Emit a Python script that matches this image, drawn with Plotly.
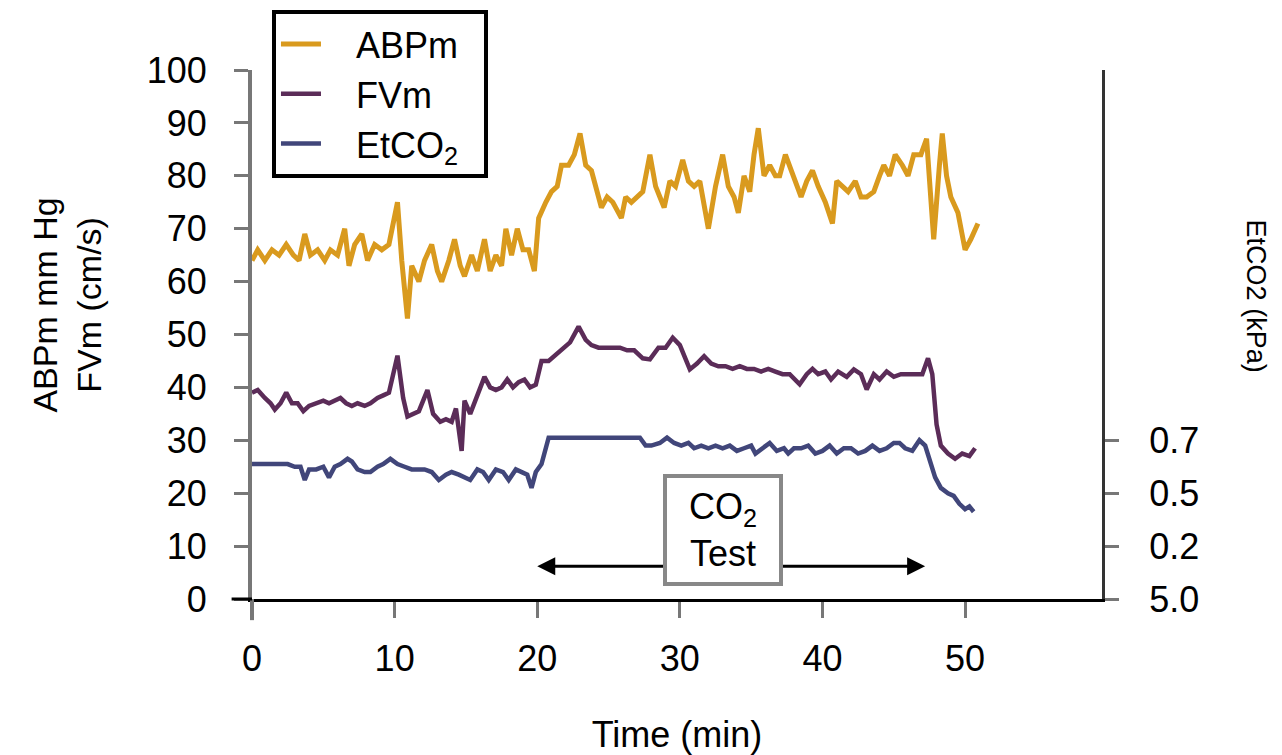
import plotly.graph_objects as go

# ---- data ----
abp_t = [0.0,0.4,0.9,1.4,1.9,2.4,2.9,3.3,3.7,4.1,4.6,5.1,5.5,6.0,6.5,6.8,7.2,7.7,8.1,8.6,9.1,9.6,
         10.2,10.5,10.9,11.2,11.7,12.1,12.6,13.0,13.3,13.8,14.2,14.6,14.9,15.4,15.8,16.3,16.7,17.1,17.5,
         17.8,18.2,18.6,19.0,19.4,19.8,20.1,20.6,21.0,21.4,21.7,22.2,22.6,23.0,23.4,23.8,24.1,24.5,24.9,
         25.3,25.9,26.2,26.6,27.0,27.4,27.9,28.3,28.6,28.9,29.3,29.7,30.2,30.6,31.0,31.4,32.0,32.5,33.0,
         33.4,33.8,34.1,34.5,34.9,35.2,35.5,35.9,36.3,36.7,37.0,37.4,37.8,38.2,38.5,38.9,39.3,39.7,40.2,
         40.7,41.0,41.4,41.8,42.3,42.7,43.1,43.6,44.0,44.3,44.7,45.1,45.6,46.0,46.4,46.9,47.3,47.8,48.2,
         48.4,48.7,49.0,49.5,50.0,50.4,50.9]
abp_v = [64,66,64,66,65,67,65,64,69,65,66,64,66,65,70,63,67,69,64,67,66,67,
         75,64,53,63,60,64,67,62,60,64,68,63,61,65,62,68,62,65,63,
         70,65,70,66,66,62,72,75,77,78,82,82,84,88,82,81,78,74,76,
         75,72,76,75,76,77,84,78,76,74,79,78,83,79,78,79,70,78,84,
         78,76,73,80,77,84,89,80,82,80,80,84,81,78,76,79,81,78,75,
         71,79,78,77,79,76,76,77,80,82,80,84,82,80,84,84,87,68,82,
         88,80,76,73,66,68,71]

fv_t = [0.0,0.4,0.9,1.3,1.6,2.0,2.4,2.8,3.2,3.6,4.0,4.5,5.0,5.4,5.8,6.2,6.6,7.0,7.4,7.9,8.3,8.8,9.2,9.6,
        10.2,10.6,10.9,11.3,11.7,12.3,12.7,13.2,13.6,14.0,14.3,14.7,14.9,15.3,15.7,16.3,16.7,17.1,17.5,
        17.9,18.3,18.7,19.1,19.5,19.9,20.3,20.8,21.2,21.7,22.3,22.9,23.4,23.8,24.3,24.8,25.3,25.8,26.3,
        26.8,27.4,27.9,28.5,29.0,29.5,30.0,30.7,31.2,31.7,32.2,32.7,33.2,33.7,34.2,34.7,35.2,35.7,36.2,
        36.7,37.2,37.7,38.4,38.9,39.3,39.7,40.2,40.6,41.1,41.7,42.2,42.7,43.1,43.6,44.0,44.5,45.0,45.5,
        46.0,46.5,47.0,47.4,47.7,48.0,48.3,48.8,49.3,49.8,50.3,50.7]
fv_v = [39,39.5,38,37,35.8,37,39,37,37,35.5,36.5,37,37.5,37,37.5,38,37,36.5,37,36.5,37,38,38.5,39,
        46,38,34.5,35,35.5,39.5,35,33.5,34,33.5,36,28,37.5,35,38,42,40,39.5,40,
        41.5,40,41,41.5,40,40.5,45,45,46,47,48.5,51.5,49,48,47.5,47.5,47.5,47.5,47,
        47,45.5,45.3,47.5,47.5,49.4,48,43.4,44.5,45.9,44.5,44,44,43.5,44,43.5,43.5,43,43.5,
        43,42.5,42.5,40.6,42.5,43.5,42.5,43,41.5,43,42,43.4,42.5,39.6,42.5,41.5,43,42,42.5,
        42.5,42.5,42.5,45.5,42.5,33,29,27.5,26.5,27.5,27,28.5]

et_t = [0.0,0.5,1.0,1.5,2.0,2.5,3.0,3.4,3.7,4.0,4.5,5.0,5.4,5.8,6.2,6.7,7.0,7.4,7.9,8.3,8.8,9.2,9.7,
        10.2,10.7,11.2,11.7,12.1,12.6,13.1,13.6,14.0,14.5,14.9,15.3,15.8,16.2,16.6,17.1,17.6,18.0,18.5,
        18.9,19.3,19.6,19.9,20.3,20.8,21.5,22.5,23.5,24.5,25.5,26.5,27.2,27.6,28.0,28.6,29.1,29.6,30.1,
        30.6,31.0,31.5,32.0,32.5,33.0,33.5,34.0,34.5,35.0,35.3,35.8,36.3,36.8,37.3,37.6,38.0,38.5,39.0,
        39.5,40.0,40.5,41.0,41.5,42.0,42.5,43.0,43.5,44.0,44.5,45.0,45.4,45.8,46.3,46.8,47.2,47.5,47.9,
        48.3,48.8,49.2,49.6,50.0,50.3,50.6]
et_v = [25.5,25.5,25.5,25.5,25.5,25.5,25,25,22.5,24.5,24.5,25,23,25,25.5,26.5,26,24.5,24,24,25,25.5,26.5,
        25.5,25,24.5,24.5,24.5,24,22.5,23.5,24,23.5,23,22.5,24.5,24,22.5,24.5,24,22.5,24.5,
        24,23.5,21,24,25.5,30.5,30.5,30.5,30.5,30.5,30.5,30.5,30.5,29,29,29.5,30.5,29.5,29,
        29.5,28.5,29,28.5,29,28.5,29,28,28.5,29,27.5,28.5,29.5,28,28.5,27.5,28.5,28.5,29,
        27.5,28,29,27.5,28.5,28.5,27.5,28,29,28,28.5,29.5,29.5,28.5,28,30,29,26.5,23,
        21,20,19.5,18,17,17.5,16.5]

left_ticks = [0, 10, 20, 30, 40, 50, 60, 70, 80, 90, 100]
x_ticks = [0, 10, 20, 30, 40, 50]
right_tickvals = [0, 10, 20, 30]
right_ticktext = ["5.0", "0.2", "0.5", "0.7"]
test_start, test_end, arrow_level = 20.0, 47.2, 6.2

FONT = "Liberation Sans, Arial, sans-serif"
C_ABP = "#D99A1E"
C_FV = "#5B2C58"
C_ET = "#41467A"
PAD = "\u00a0\u00a0\u00a0"
TAIL = "\u00a0\u00a0"

fig = go.Figure()
fig.add_trace(go.Scatter(x=abp_t, y=abp_v, mode="lines", name=PAD + "ABPm" + TAIL,
                         line=dict(color=C_ABP, width=5)))
fig.add_trace(go.Scatter(x=fv_t, y=fv_v, mode="lines", name=PAD + "FVm" + TAIL,
                         line=dict(color=C_FV, width=4.5)))
fig.add_trace(go.Scatter(x=et_t, y=et_v, mode="lines", name=PAD + "EtCO<sub>2</sub>" + TAIL,
                         line=dict(color=C_ET, width=4.5), yaxis="y2"))

# double-headed arrow for CO2 test period
mid = (test_start + test_end) / 2
for end in (test_start, test_end):
    fig.add_annotation(x=end, y=arrow_level, ax=mid, ay=arrow_level, xref="x", yref="y",
                       axref="x", ayref="y", text="", showarrow=True, arrowhead=2,
                       arrowsize=1.2, arrowwidth=3, arrowcolor="black")
fig.add_annotation(x=33.0, y=13.0, xref="x", yref="y", text="CO<sub>2</sub><br>Test",
                   showarrow=False, font=dict(family=FONT, size=36, color="black"),
                   bgcolor="white", bordercolor="#888888", borderwidth=4, borderpad=4,
                   width=104, height=96)

# axis titles
fig.add_annotation(x=-0.218, y=0.556, xref="paper", yref="paper",
                   xanchor="center", yanchor="middle",
                   text="ABPm mm Hg<br>FVm (cm/s)", textangle=-90, showarrow=False,
                   font=dict(family=FONT, size=34, color="black"))
fig.add_annotation(x=1.1815, y=0.573, xref="paper", yref="paper",
                   xanchor="center", yanchor="middle",
                   text="EtCO2 (kPa)", textangle=90, showarrow=False,
                   font=dict(family=FONT, size=27, color="black"))

# axis line extensions
fig.add_shape(type="line", xref="paper", yref="paper", x0=0, x1=0, y0=0, y1=-0.04,
              line=dict(color="#777777", width=4))
fig.add_shape(type="line", xref="paper", yref="paper", x0=-0.024, x1=0, y0=0, y1=0,
              line=dict(color="black", width=3))

fig.update_layout(
    width=1282, height=755,
    margin=dict(l=244, r=188, t=62, b=164, autoexpand=False),
    paper_bgcolor="white", plot_bgcolor="white",
    font=dict(family=FONT, size=36, color="black"),
    showlegend=True,
    legend=dict(x=0.0235, y=1.1134, xanchor="left", yanchor="top",
                bgcolor="white", bordercolor="black", borderwidth=4,
                font=dict(family=FONT, size=36, color="black"),
                tracegroupgap=0, itemwidth=40),
    xaxis=dict(range=[0, 59.6], tickvals=x_ticks, showgrid=False, zeroline=False,
               showline=True, linecolor="black", linewidth=3,
               ticks="outside", ticklen=16, tickwidth=3, tickcolor="#777777",
               ticklabelstandoff=10,
               title=dict(text="Time (min)", standoff=44, font=dict(size=36))),
    yaxis=dict(range=[0, 100], tickvals=left_ticks, showgrid=False, zeroline=False,
               showline=True, linecolor="#777777", linewidth=4,
               ticks="outside", ticklen=14, tickwidth=3, tickcolor="#777777",
               ticklabelstandoff=20),
    yaxis2=dict(range=[0, 100], overlaying="y", side="right", tickvals=right_tickvals,
                ticktext=right_ticktext, showgrid=False, zeroline=False,
                showline=True, linecolor="#333333", linewidth=3,
                ticks="outside", ticklen=14, tickwidth=3, tickcolor="#777777",
                ticklabelstandoff=23),
)

fig.write_html("out.html")
